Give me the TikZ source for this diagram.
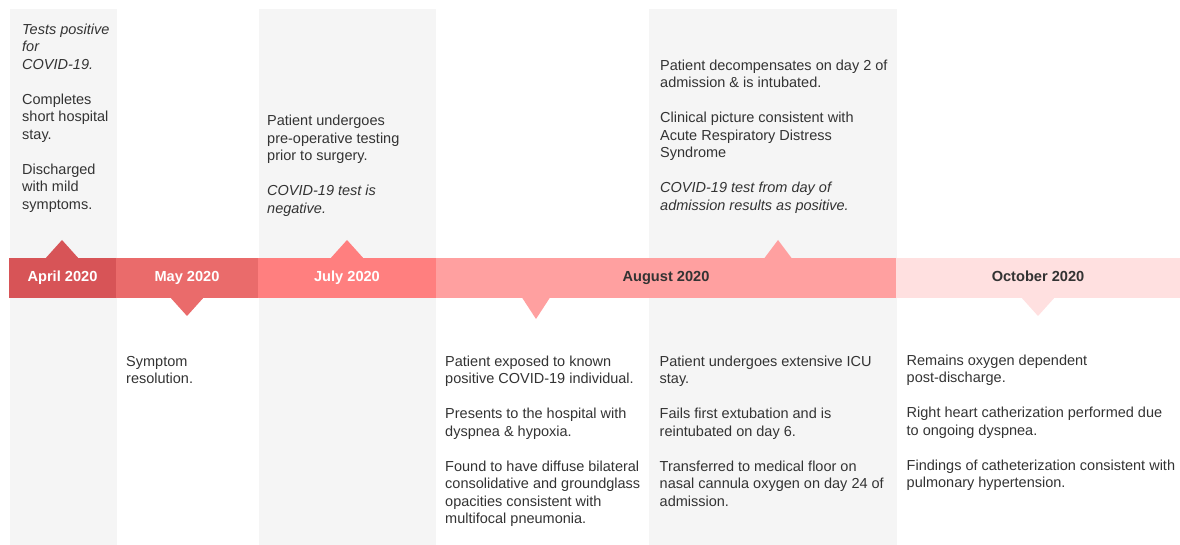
\documentclass[tikz,border=0pt]{standalone}
\usepackage{fontspec}
\setmainfont{Liberation Sans}
\usepackage{xcolor}
\usepackage{tikz}
\definecolor{aprilred}{RGB}{215, 84, 87}
\definecolor{mayred}{RGB}{234, 107, 107}
\definecolor{julyred}{RGB}{255, 127, 127}
\definecolor{augustred}{RGB}{255, 160, 160}
\definecolor{octoberred}{RGB}{255, 224, 224}
\definecolor{columngray}{RGB}{245, 245, 245}
\definecolor{darktext}{RGB}{51, 51, 51}
\usetikzlibrary{positioning}

\begin{document}
\begin{tikzpicture}[
    x=1pt, y=-1pt,
    segment/.style={
        rectangle,
        minimum height=40pt,
        inner sep=0pt,
        text height=10.5pt,
        text depth=3pt,
        font=\fontsize{14.6}{16}\selectfont\bfseries
    },
    note/.style={
        anchor=north west,
        inner sep=0pt,
        align=left,
        text=darktext,
        font=\fontsize{14.5}{17.5}\selectfont
    }
]
    \useasboundingbox (0,0) rectangle (1180,545);

    % Columns
    \fill[columngray] (10,9) rectangle (117,545);
    \fill[columngray] (259,9) rectangle (436,545);
    \fill[columngray] (649,9) rectangle (897,545);

    % Pointers
    \fill[aprilred] (44,260) -- (62,240) -- (80,260) -- cycle;
    \fill[mayred] (169,296) -- (187,316) -- (205,296) -- cycle;
    \fill[julyred] (329,260) -- (347,240) -- (365,260) -- cycle;
    \fill[augustred] (521,296) -- (536,319) -- (551,296) -- cycle;
    \fill[augustred] (763,260) -- (778,240) -- (793,260) -- cycle;
    \fill[octoberred] (1020,296) -- (1038,316) -- (1056,296) -- cycle;

    % Timeline
    \node[segment, fill=aprilred, minimum width=107pt, text=white] (april) at (62.5,278) {April 2020};
    \node[segment, fill=mayred, minimum width=142pt, text=white] (may) at (187,278) {May 2020};
    \node[segment, fill=julyred, minimum width=178pt, text=white] (july) at (347,278) {July 2020};
    \node[segment, fill=augustred, minimum width=460pt, text=darktext] (august) at (666,278) {August 2020};
    \node[segment, fill=octoberred, minimum width=284pt, text=darktext] (october) at (1038,278) {October 2020};

    % Above the line
    \node[note] (aprilnote) at (22,23.5) {
        \textit{Tests positive}\\\textit{for}\\\textit{COVID-19.}\\[17.5pt]
        Completes\\short hospital\\stay.\\[17.5pt]
        Discharged\\with mild\\symptoms.
    };
    \node[note] (julynote) at (267,115) {
        Patient undergoes\\pre-operative testing\\prior to surgery.\\[17.5pt]
        \textit{COVID-19 test is}\\\textit{negative.}
    };
    \node[note] (augustnotetop) at (660,59.5) {
        Patient decompensates on day 2 of\\admission \& is intubated.\\[17.5pt]
        Clinical picture consistent with\\Acute Respiratory Distress\\Syndrome\\[17.5pt]
        \textit{COVID-19 test from day of}\\\textit{admission results as positive.}
    };

    % Below the line
    \node[note] (maynote) at (126,356) {
        Symptom\\resolution.
    };
    \node[note] (augustnoteleft) at (445,355.5) {
        Patient exposed to known\\positive COVID-19 individual.\\[17.5pt]
        Presents to the hospital with\\dyspnea \& hypoxia.\\[17.5pt]
        Found to have diffuse bilateral\\consolidative and groundglass\\opacities consistent with\\multifocal pneumonia.
    };
    \node[note] (augustnoteright) at (659.5,355.5) {
        Patient undergoes extensive ICU\\stay.\\[17.5pt]
        Fails first extubation and is\\reintubated on day 6.\\[17.5pt]
        Transferred to medical floor on\\nasal cannula oxygen on day 24 of\\admission.
    };
    \node[note] (octobernote) at (906.5,354.5) {
        Remains oxygen dependent\\post-discharge.\\[17.5pt]
        Right heart catherization performed due\\to ongoing dyspnea.\\[17.5pt]
        Findings of catheterization consistent with\\pulmonary hypertension.
    };
\end{tikzpicture}
\end{document}
